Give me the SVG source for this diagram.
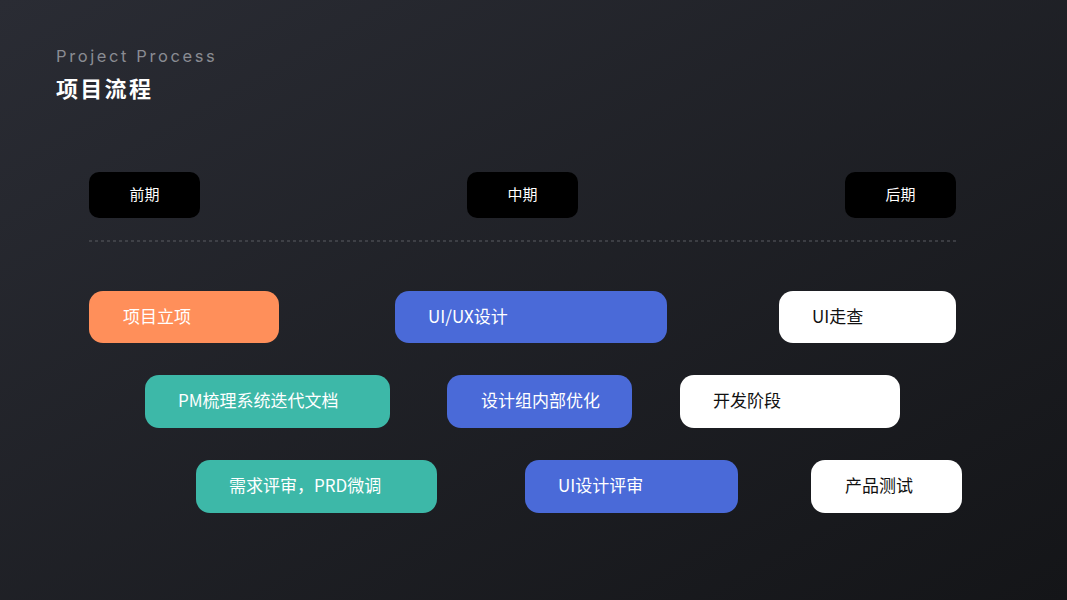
<svg xmlns="http://www.w3.org/2000/svg" width="1067" height="600" viewBox="0 0 1067 600">
<defs>
<linearGradient id="bg" x1="0" y1="0" x2="1" y2="1">
<stop offset="0" stop-color="#2a2c34"/>
<stop offset="1" stop-color="#141518"/>
</linearGradient>
<style>
.t{font-family:"Noto Sans CJK SC","Noto Sans",sans-serif;font-size:17px;fill:#fff}
.ph{fill:#000}
.pt{font-family:"Noto Sans CJK SC","Noto Sans",sans-serif;font-size:15px;fill:#fff;text-anchor:middle}
.o{fill:#ff8f5a}.g{fill:#3db8a8}.b{fill:#4a6ad8}.w{fill:#fff}
</style>
</defs>
<rect width="1067" height="600" fill="url(#bg)"/>
<text x="56" y="62" font-family="Inter,'Noto Sans',sans-serif" font-size="16.5" letter-spacing="2.6" fill="#8a8c93">Project Process</text>
<text x="56" y="97" font-family="'Noto Sans CJK SC',sans-serif" font-size="22" font-weight="bold" letter-spacing="2.3" fill="#fff">项目流程</text>
<g id="phase-early"><rect class="ph" x="89" y="172" width="111" height="46" rx="10"/><text class="pt" x="144.5" y="200">前期</text></g>
<g id="phase-mid"><rect class="ph" x="467" y="172" width="111" height="46" rx="10"/><text class="pt" x="522.5" y="200">中期</text></g>
<g id="phase-late"><rect class="ph" x="845" y="172" width="111" height="46" rx="10"/><text class="pt" x="900.5" y="200">后期</text></g>
<g id="connectors"><line x1="89" y1="241" x2="956" y2="241" stroke="#5a5c63" stroke-width="1" stroke-dasharray="3 3"/></g>
<g id="n1"><rect class="o" x="89" y="291" width="190" height="52" rx="14"/><text class="t" x="123" y="323">项目立项</text></g>
<g id="n2"><rect class="b" x="395" y="291" width="272" height="52" rx="14"/><text class="t" x="428" y="323">UI/UX设计</text></g>
<g id="n3"><rect class="w" x="779" y="291" width="177" height="52" rx="14"/><text class="t" x="812" y="323" style="fill:#111">UI走查</text></g>
<g id="n4"><rect class="g" x="145" y="375" width="245" height="53" rx="14"/><text class="t" x="178" y="407">PM梳理系统迭代文档</text></g>
<g id="n5"><rect class="b" x="447" y="375" width="185" height="53" rx="14"/><text class="t" x="481" y="407">设计组内部优化</text></g>
<g id="n6"><rect class="w" x="680" y="375" width="220" height="53" rx="14"/><text class="t" x="713" y="407" style="fill:#111">开发阶段</text></g>
<g id="n7"><rect class="g" x="196" y="460" width="241" height="53" rx="14"/><text class="t" x="229" y="492">需求评审，PRD微调</text></g>
<g id="n8"><rect class="b" x="525" y="460" width="213" height="53" rx="14"/><text class="t" x="558" y="492">UI设计评审</text></g>
<g id="n9"><rect class="w" x="811" y="460" width="151" height="53" rx="14"/><text class="t" x="845" y="492" style="fill:#111">产品测试</text></g>
</svg>
